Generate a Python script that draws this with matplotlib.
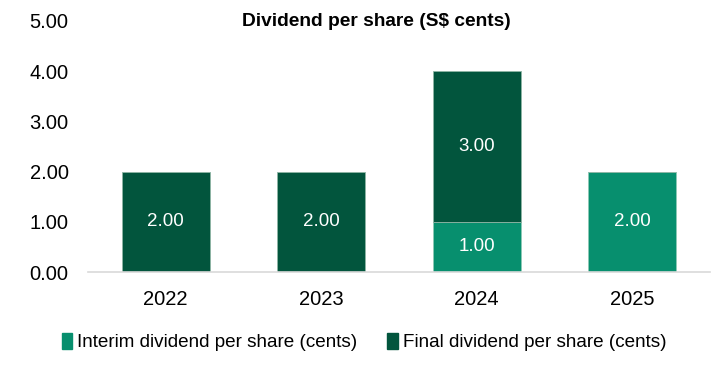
import matplotlib
matplotlib.use("Agg")
import matplotlib.pyplot as plt
from matplotlib.patches import Patch

plt.rcParams["font.family"] = ["Liberation Sans", "DejaVu Sans"]

years = ["2022", "2023", "2024", "2025"]
interim = [0.0, 0.0, 1.0, 2.0]
final = [2.0, 2.0, 3.0, 0.0]
yticks = [0, 1, 2, 3, 4, 5]

LIGHT = "#078f6e"
DARK = "#02553d"

fig = plt.figure(figsize=(7.13, 3.75), dpi=100)
ax = fig.add_axes([88 / 713, 103 / 375, 622 / 713, 251 / 375])

x = range(len(years))
width = 0.565
ax.bar(x, interim, width, color=LIGHT, edgecolor="#8fc9b5", linewidth=0.6, zorder=2)
ax.bar(x, final, width, bottom=interim, color=DARK, edgecolor="#8fb5a5",
       linewidth=0.6, zorder=2)

for i in x:
    if interim[i] > 0:
        ax.text(i, interim[i] / 2, f"{interim[i]:.2f}", ha="center", va="center",
                color="white", fontsize=13.5)
    if final[i] > 0:
        ax.text(i, interim[i] + final[i] / 2, f"{final[i]:.2f}", ha="center",
                va="center", color="white", fontsize=13.5)

ax.set_xlim(-0.5, 3.5)
ax.set_ylim(0, 5)
ax.set_yticks(yticks)
ax.set_yticklabels([f"{v:.2f}" for v in yticks])
ax.set_xticks(list(x))
ax.set_xticklabels(years)
ax.tick_params(axis="both", length=0, labelsize=14.5, colors="black")
ax.tick_params(axis="y", pad=14)
ax.tick_params(axis="x", pad=13)
for s in ["top", "right", "left"]:
    ax.spines[s].set_visible(False)
ax.spines["bottom"].set_color("#d9d9d9")
ax.spines["bottom"].set_linewidth(1.2)

fig.text(376 / 713, 1 - 22 / 375, "Dividend per share (S$ cents)", ha="center",
         va="center", fontsize=13.8, fontweight="bold")

handles = [Patch(color=LIGHT, label="Interim dividend per share (cents)"),
           Patch(color=DARK, label="Final dividend per share (cents)")]
fig.legend(handles=handles, loc="center", bbox_to_anchor=(364 / 713, 1 - 342 / 375),
           ncol=2, frameon=False, fontsize=13.6, handlelength=0.55, handleheight=0.9,
           handletextpad=0.25, columnspacing=1.6)

fig.savefig("out.png", dpi=100)
